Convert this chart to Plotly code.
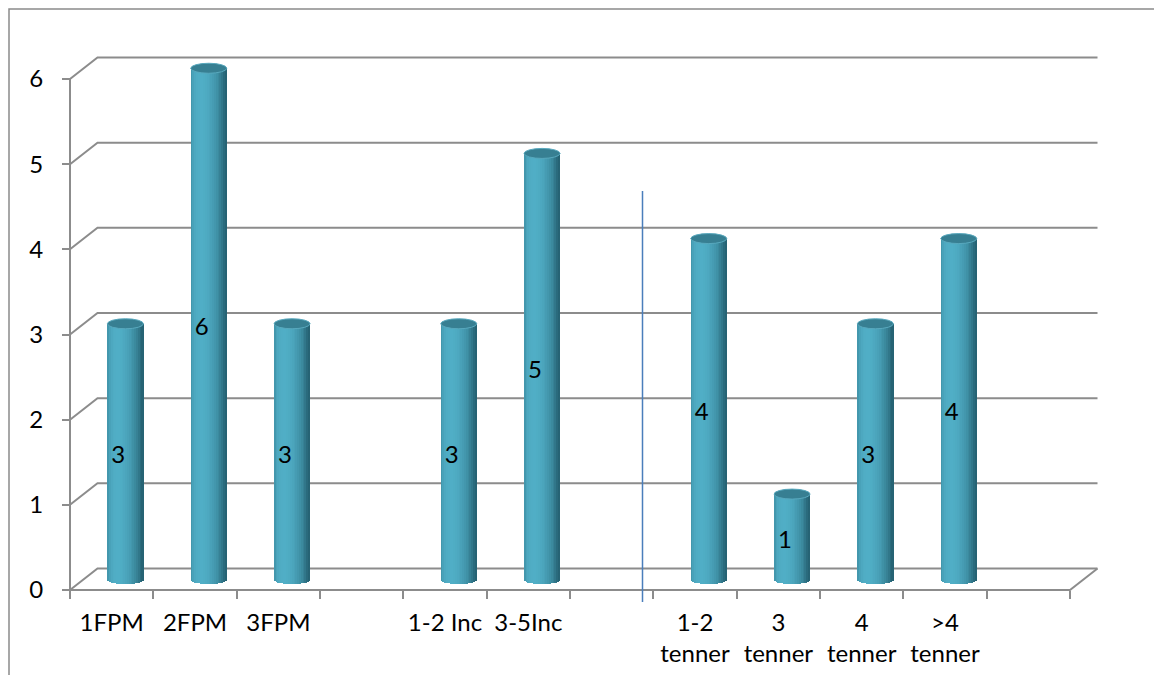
import numpy as np
import plotly.graph_objects as go

# ---- data -----------------------------------------------------------------
categories = ["1FPM", "2FPM", "3FPM", "", "1-2 Inc", "3-5Inc", "",
              "1-2<br>tenner", "3<br>tenner", "4<br>tenner", ">4<br>tenner", ""]
values = [3, 6, 3, None, 3, 5, None, 4, 1, 3, 4, None]
y_ticks = [0, 1, 2, 3, 4, 5, 6]

# ---- frame geometry ---------------------------------------------------------
W, H = 1154, 675
X0_PX, Y0_PX = 70, 590            # front corner of the axes on the page
PX_PER_CAT = 1000 / 12
PX_PER_UNIT = 511 / 6
DEPTH_X = 27.5 / PX_PER_CAT       # perspective shift of the back wall
DEPTH_Y = 21.5 / PX_PER_UNIT
CYL_W = 36 / PX_PER_CAT           # cylinder diameter
CAP_B = 5 / PX_PER_UNIT           # half height of the elliptical caps
N_STRIPS = 20

n_cat = len(categories)
x_range = [-X0_PX / PX_PER_CAT, (W - X0_PX) / PX_PER_CAT]
y_range = [-(H - Y0_PX) / PX_PER_UNIT, Y0_PX / PX_PER_UNIT]

GRID = "#8c8c8c"
FONT = "Lato"
FSIZE = 24

dark = np.array([30, 86, 102])
light = np.array([80, 174, 198])


def shade(u):
    a = np.arcsin(u)
    inten = 0.15 + 0.85 * max(0.0, np.cos(a + 0.45))
    c = dark + inten * (light - dark)
    return "rgb(%d,%d,%d)" % tuple(c.round().astype(int))


# ---- cylinders built from shaded vertical strips ------------------------------
bx, by, bbase, bw, bc = [], [], [], [], []
caps = []
for i, v in enumerate(values):
    if v is None:
        continue
    cx = i + 0.5 + DEPTH_X / 2
    yc = DEPTH_Y / 2
    for k in range(N_STRIPS):
        u = -1 + (2 * k + 1) / N_STRIPS
        bottom = yc - CAP_B * np.sqrt(max(0.0, 1 - u * u))
        top = v + yc
        bx.append(cx + u * CYL_W / 2)
        bbase.append(bottom)
        by.append(top - bottom)
        bw.append(CYL_W / N_STRIPS * 1.25)
        bc.append(shade(u))
    caps.append(dict(type="circle", xref="x", yref="y",
                     x0=cx - CYL_W / 2, x1=cx + CYL_W / 2,
                     y0=v + yc - CAP_B, y1=v + yc + CAP_B,
                     fillcolor="#377f92", line=dict(color="#58a8bd", width=1),
                     layer="above"))

fig = go.Figure()
fig.add_trace(go.Bar(x=bx, y=by, base=bbase, width=bw,
                     marker=dict(color=bc, line=dict(width=0)),
                     hoverinfo="skip", showlegend=False))

# value labels on the cylinders
lx = [i + 0.58 for i, v in enumerate(values) if v is not None]
ly = [v / 2 + 0.065 for v in values if v is not None]
lt = [str(v) for v in values if v is not None]
fig.add_trace(go.Scatter(x=lx, y=ly, text=lt, mode="text",
                         textfont=dict(family=FONT, size=FSIZE, color="black"),
                         hoverinfo="skip", showlegend=False))

# ---- 3D walls, floor and front axis ---------------------------------------------
shapes = []
for k in y_ticks:
    shapes.append(dict(type="path", xref="x", yref="y",
                       path=f"M 0,{k} L {DEPTH_X},{k + DEPTH_Y} L {n_cat + DEPTH_X},{k + DEPTH_Y}",
                       line=dict(color=GRID, width=2), layer="below"))
shapes.append(dict(type="path", xref="x", yref="y",
                   path=f"M 0,0 L {n_cat},0 L {n_cat + DEPTH_X},{DEPTH_Y}",
                   line=dict(color=GRID, width=2), layer="below"))
shapes.append(dict(type="line", xref="x", yref="y", x0=0, x1=0, y0=0, y1=max(y_ticks),
                   line=dict(color=GRID, width=2), layer="below"))
# separator between the groups
shapes.append(dict(type="line", xref="x", yref="y", x0=6.87, x1=6.87, y0=-0.14, y1=4.685,
                   line=dict(color="#4a7ebb", width=1.5), layer="above"))
# chart border
shapes.append(dict(type="rect", xref="paper", yref="paper",
                   x0=9 / W, x1=1.05, y0=-0.05, y1=1 - 9 / H,
                   line=dict(color="#8a8a8a", width=1.5), fillcolor="rgba(0,0,0,0)",
                   layer="below"))
shapes.extend(caps)

fig.update_layout(
    width=W, height=H,
    margin=dict(l=0, r=0, t=0, b=0),
    paper_bgcolor="white", plot_bgcolor="white",
    barmode="overlay", bargap=0,
    shapes=shapes,
    font=dict(family=FONT, size=FSIZE, color="black"),
    xaxis=dict(range=x_range, anchor="free", position=(H - Y0_PX) / H,
               showgrid=False, zeroline=False, showline=False,
               tickmode="array", tickvals=[i + 0.5 for i in range(n_cat)],
               ticktext=categories, ticks="", ticklabelstandoff=16,
               tickfont=dict(family=FONT, size=FSIZE, color="black"),
               minor=dict(tickmode="array", tickvals=list(range(n_cat + 1)),
                          ticks="outside", ticklen=8, tickwidth=2, tickcolor=GRID),
               fixedrange=True),
    yaxis=dict(range=y_range, anchor="free", position=X0_PX / W,
               showgrid=False, zeroline=False, showline=False,
               tickmode="array", tickvals=y_ticks, ticks="outside",
               ticklen=8, tickwidth=2, tickcolor=GRID, ticklabelstandoff=14,
               tickfont=dict(family=FONT, size=FSIZE, color="black"),
               fixedrange=True),
)

fig.write_html("out.html")
